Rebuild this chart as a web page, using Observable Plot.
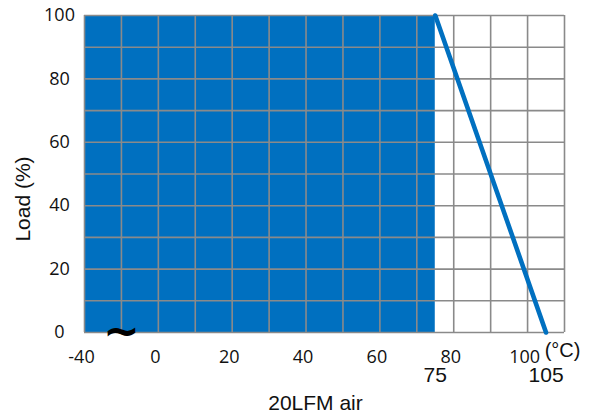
<!DOCTYPE html>
<html>
<head>
<meta charset="utf-8">
<script src="https://cdn.jsdelivr.net/npm/d3@7"></script>
<script src="https://cdn.jsdelivr.net/npm/@observablehq/plot@0.6"></script>
<style>
  html, body { margin: 0; padding: 0; background: #fff; }
  #chart svg { display: block; }
</style>
</head>
<body>
<div id="chart"></div>
<script>
// Derating curve data
const xDomain = [-20, 110];            // visible temperature span (axis broken at left)
const yDomain = [0, 100];
const gridXValues = d3.range(-20, 111, 10);
const gridYValues = d3.range(0, 101, 10);
const xTickValues = [-20, 0, 20, 40, 60, 80, 100];
const xTickLabels = ["-40", "0", "20", "40", "60", "80", "100"];
const yTickValues = [0, 20, 40, 60, 80, 100];
const fullLoadRange = [-20, 75];       // full-load region
const fullLoad = 100;
const curveTemps = [75, 105];
const curveLoads = [100, 0];
const markerTemps = [75, 105];
const breakMarkX = [-10];

const blue = "#0070C0";
const gridColor = "#8a8a8a";

const curve = curveTemps.map((t, i) => ({t, load: curveLoads[i]}));
const region = [{x1: fullLoadRange[0], x2: fullLoadRange[1], y1: 0, y2: fullLoad}];

const chart = Plot.plot({
  width: 590,
  height: 419,
  marginLeft: 84,
  marginRight: 26,
  marginTop: 15,
  marginBottom: 87,
  style: {fontFamily: "'Liberation Sans', Arial, sans-serif", background: "#fff"},
  x: {domain: xDomain},
  y: {domain: yDomain},
  marks: [
    Plot.rect(region, {x1: "x1", x2: "x2", y1: "y1", y2: "y2", fill: blue}),
    Plot.ruleX(gridXValues, {stroke: gridColor, strokeWidth: 1.6, strokeOpacity: 1}),
    Plot.ruleY(gridYValues, {stroke: gridColor, strokeWidth: 1.6, strokeOpacity: 1}),
    Plot.line(curve, {x: "t", y: "load", stroke: blue, strokeWidth: 4.6}),
    Plot.axisX({
      ticks: xTickValues,
      tickFormat: (d) => xTickLabels[xTickValues.indexOf(d)],
      tickSize: 0,
      tickPadding: 18,
      dx: -3,
      fontSize: 18,
      fontFamily: "'Open Sans', sans-serif",
      fill: "#111",
      label: null
    }),
    Plot.axisY({
      ticks: yTickValues,
      tickSize: 0,
      tickPadding: 25,
      textAnchor: "middle",
      fontSize: 18,
      fontFamily: "'Open Sans', sans-serif",
      fill: "#111",
      label: null
    }),
    Plot.text(markerTemps, {x: (d) => d, frameAnchor: "bottom", dy: 49, fontSize: 21, fill: "#111"}),
    Plot.text(["(°C)"], {frameAnchor: "bottom-right", textAnchor: "middle", dx: -2, dy: 24, fontSize: 20, fill: "#111"}),
    Plot.text(breakMarkX, {x: (d) => d, text: () => "~", frameAnchor: "bottom", dy: 13, fontSize: 44, fontWeight: "bold", fill: "#000", fontFamily: "'DejaVu Sans', sans-serif"}),
    Plot.text(["20LFM air"], {frameAnchor: "bottom", dx: -9, dy: 77, fontSize: 21, fill: "#111"}),
    Plot.text(["Load (%)"], {frameAnchor: "left", textAnchor: "middle", rotate: -90, dx: -61, dy: 25, fontSize: 21, fill: "#111"})
  ]
});

document.getElementById("chart").appendChild(chart);
</script>
</body>
</html>
